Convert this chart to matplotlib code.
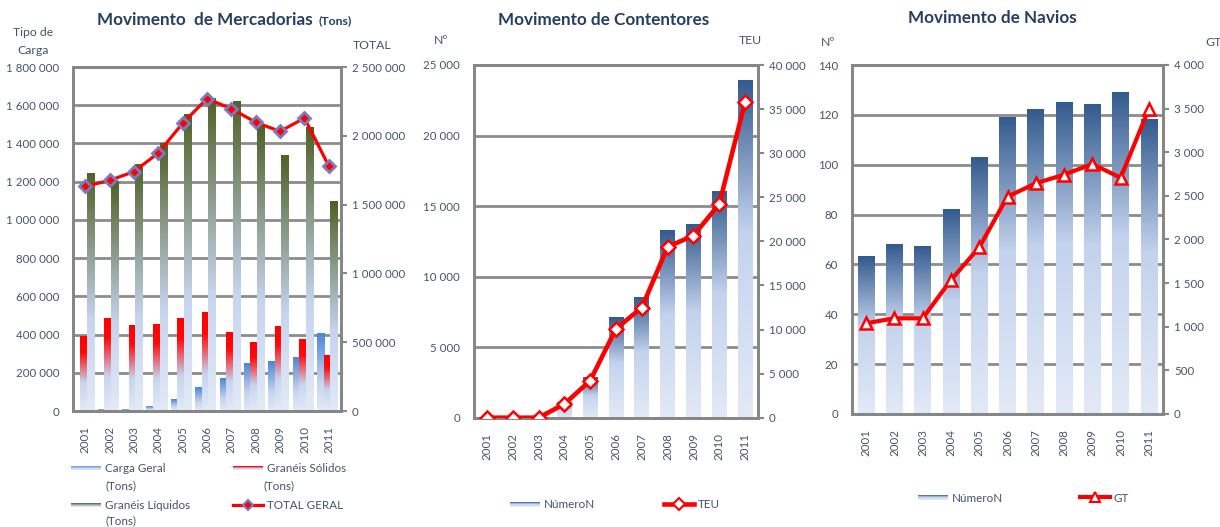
import numpy as np
import matplotlib
matplotlib.use("Agg")
import matplotlib.pyplot as plt
from matplotlib.colors import to_rgb
from matplotlib.patches import Rectangle, Patch
from matplotlib.lines import Line2D
from matplotlib.legend_handler import HandlerBase
from matplotlib.ticker import FuncFormatter, MultipleLocator

plt.rcParams['font.family'] = ['Lato', 'DejaVu Sans']

# ---------------- data ----------------
years = ['2001', '2002', '2003', '2004', '2005', '2006', '2007', '2008', '2009', '2010', '2011']

carga_geral = [5000, 8000, 7000, 25000, 58000, 122000, 168000, 251000, 257000, 278000, 403000]
graneis_solidos = [389000, 483000, 445000, 455000, 483000, 518000, 413000, 361000, 440000, 372000, 288000]
graneis_liquidos = [1245000, 1200000, 1292000, 1401000, 1554000, 1633000, 1618000, 1488000, 1336000, 1482000, 1095000]
total_geral = [1632000, 1676000, 1739000, 1875000, 2091000, 2270000, 2197000, 2098000, 2032000, 2129000, 1780000]

contentores_num = [0, 0, 0, 1090, 2885, 7137, 8555, 13255, 13730, 16090, 23890]
contentores_teu = [0, 0, 0, 1550, 4200, 10090, 12480, 19390, 20640, 24240, 35800]

navios_num = [63, 68, 67, 82, 103, 119, 122, 125, 124, 129, 118]
navios_gt = [1040, 1097, 1097, 1536, 1910, 2491, 2644, 2743, 2865, 2708, 3496]

# ---------------- style ----------------
W, H = 1220, 527
TXT = '#44546a'
TITLE = '#243f60'
GRID = '#8c8c8c'
FS = 8.3
LFS = 8.4
TFS = 12.3

G_BLUE = [(0, '#4a86d8'), (0.62, '#c6d4ee'), (1, '#e3eaf7')]
G_RED = [(0, '#ff0000'), (0.22, '#ff0a0a'), (0.62, '#c6d4ee'), (1, '#e3eaf7')]
G_GREEN = [(0, '#4f6228'), (0.62, '#c6d4ee'), (1, '#e3eaf7')]
G_NAVY = [(0, '#345b8e'), (0.45, '#c3d2ed'), (1, '#e3eaf7')]


def grad_array(stops, n=128):
    t = np.linspace(0, 1, n)
    pos = [s[0] for s in stops]
    cols = np.array([to_rgb(s[1]) for s in stops])
    arr = np.stack([np.interp(t, pos, cols[:, k]) for k in range(3)], axis=1)
    return arr[:, None, :]


def gradient_bars(ax, x, heights, width, stops, zorder=2):
    bars = ax.bar(x, heights, width, color='none', edgecolor='none', zorder=zorder)
    img = grad_array(stops)
    for r in bars:
        h = r.get_height()
        if h <= 0:
            continue
        x0 = r.get_x()
        ax.imshow(img, extent=[x0, x0 + r.get_width(), 0, h], aspect='auto',
                  origin='upper', zorder=zorder, interpolation='bilinear')
    return bars


class GradHandler(HandlerBase):
    def __init__(self, stops, frac=0.6):
        super().__init__()
        self.stops = stops
        self.frac = frac

    def create_artists(self, legend, orig_handle, xdescent, ydescent, width, height, fontsize, trans):
        n = 10
        arr = grad_array(self.stops, n)[:, 0, :]
        hh = height * self.frac
        y0 = -ydescent + (height - hh) / 2
        arts = []
        for i in range(n):
            rect = Rectangle((-xdescent, y0 + hh * (1 - (i + 1) / n)), width, hh / n + 0.05,
                             facecolor=arr[i], edgecolor='none', transform=trans)
            arts.append(rect)
        return arts


def space_fmt(v, pos=None):
    return f"{int(round(v)):,}".replace(',', ' ')


def style_axes(ax, ax2):
    for a in (ax, ax2):
        for s in a.spines.values():
            s.set_color('#868686')
            s.set_linewidth(2)
    ax.tick_params(axis='y', length=0, pad=10, labelsize=FS, labelcolor=TXT)
    ax.tick_params(axis='x', length=0, pad=11, labelsize=FS, labelcolor=TXT, labelrotation=90)
    ax2.tick_params(axis='y', length=4, width=1.5, color='#868686', pad=4, labelsize=FS, labelcolor=TXT)
    ax.yaxis.set_major_formatter(FuncFormatter(space_fmt))
    ax2.yaxis.set_major_formatter(FuncFormatter(space_fmt))
    ax.grid(axis='y', color=GRID, linewidth=2, zorder=1)
    ax.set_axisbelow(True)


def fx(x):
    return x / W


def fy(y):
    return 1 - y / H


fig = plt.figure(figsize=(W / 100, H / 100), dpi=100)
x = np.arange(len(years))

# ---------------- panel 1 ----------------
ax1 = fig.add_axes([fx(73), fy(411), fx(341) - fx(73), fy(67) - fy(411)])
ax1b = ax1.twinx()
bw = 0.31
gradient_bars(ax1, x - 0.33, carga_geral, bw, G_BLUE)
gradient_bars(ax1, x - 0.06, graneis_solidos, bw, G_RED)
gradient_bars(ax1, x + 0.21, graneis_liquidos, bw, G_GREEN)
ax1b.plot(x, total_geral, color='#ff0000', lw=2.3, marker='D', ms=6.5,
          mfc='#ff0000', mec='#7b7bbd', mew=2.0, zorder=5)
ax1.set_xlim(-0.5, 10.5)
ax1.set_ylim(0, 1800000)
ax1.yaxis.set_major_locator(MultipleLocator(200000))
ax1b.set_ylim(0, 2500000)
ax1b.yaxis.set_major_locator(MultipleLocator(500000))
ax1.set_xticks(x)
ax1.set_xticklabels(years)
style_axes(ax1, ax1b)

fig.text(fx(33), fy(33), 'Tipo de', ha='center', va='center', fontsize=8.8, color=TXT)
fig.text(fx(33), fy(50), 'Carga', ha='center', va='center', fontsize=8.8, color=TXT)
fig.text(fx(372), fy(45), 'TOTAL', ha='center', va='center', fontsize=8.8, color=TXT)
t1 = fig.text(fx(97), fy(20), 'Movimento  de Mercadorias', ha='left', va='center',
              fontsize=TFS, fontweight='bold', color=TITLE)
renderer = fig.canvas.get_renderer()
bb = t1.get_window_extent(renderer)
fig.text((bb.x1 + 6) / W, fy(21), '(Tons)', ha='left', va='center', fontsize=8.8,
         fontweight='bold', color=TITLE)

h_cg = Patch(label='Carga Geral')
h_gl = Patch(label='Granéis Líquidos')
h_gs = Patch(label='Granéis Sólidos')
h_tg = Line2D([], [], color='#ff0000', lw=2.3, marker='D', ms=5, mfc='#ff0000',
              mec='#7b7bbd', mew=1.5, label='TOTAL GERAL')
fig.legend(handles=[h_cg, h_gl, h_gs, h_tg], loc='upper left',
           bbox_to_anchor=(fx(71), fy(463)), ncol=2, frameon=False, borderpad=0,
           borderaxespad=0, fontsize=LFS, labelcolor=TXT, handlelength=2.6,
           handletextpad=0.35, columnspacing=3.6, labelspacing=2.25, numpoints=1,
           handler_map={h_cg: GradHandler(G_BLUE, 0.55), h_gl: GradHandler(G_GREEN, 0.55),
                        h_gs: GradHandler(G_RED, 0.55)})
fig.text(fx(105), fy(486), '(Tons)', ha='left', va='center', fontsize=LFS, color=TXT)
fig.text(fx(263), fy(486), '(Tons)', ha='left', va='center', fontsize=LFS, color=TXT)
fig.text(fx(105), fy(521), '(Tons)', ha='left', va='center', fontsize=LFS, color=TXT)

# ---------------- panel 2 ----------------
ax2 = fig.add_axes([fx(474), fy(417.7), fx(758) - fx(474), fy(65) - fy(417.7)])
ax2b = ax2.twinx()
gradient_bars(ax2, x, contentores_num, 0.58, G_NAVY)
ax2b.plot(x, contentores_teu, color='#ff0000', lw=3.3, marker='D', ms=7.5,
          mfc='white', mec='#ff0000', mew=1.8, zorder=5)
ax2.set_xlim(-0.5, 10.5)
ax2.set_ylim(0, 25000)
ax2.yaxis.set_major_locator(MultipleLocator(5000))
ax2b.set_ylim(0, 40000)
ax2b.yaxis.set_major_locator(MultipleLocator(5000))
ax2.set_xticks(x)
ax2.set_xticklabels(years)
style_axes(ax2, ax2b)

fig.text(fx(604), fy(20), 'Movimento de Contentores', ha='center', va='center',
         fontsize=TFS, fontweight='bold', color=TITLE)
fig.text(fx(441), fy(41), 'Nº', ha='center', va='center', fontsize=8.8, color=TXT)
fig.text(fx(750), fy(41), 'TEU', ha='center', va='center', fontsize=8.8, color=TXT)

h_n2 = Patch(label='NúmeroN')
h_teu = Line2D([], [], color='#ff0000', lw=3.3, marker='D', ms=6, mfc='white',
               mec='#ff0000', mew=1.5, label='TEU')
fig.legend(handles=[h_n2, h_teu], loc='center left', bbox_to_anchor=(fx(510), fy(505)),
           ncol=2, frameon=False, borderpad=0, borderaxespad=0, fontsize=LFS,
           labelcolor=TXT, handlelength=2.6, handletextpad=0.3, columnspacing=5.9,
           numpoints=1, handler_map={h_n2: GradHandler(G_NAVY, 0.6)})

# ---------------- panel 3 ----------------
ax3 = fig.add_axes([fx(852), fy(414), fx(1163) - fx(852), fy(65) - fy(414)])
ax3b = ax3.twinx()
gradient_bars(ax3, x, navios_num, 0.59, G_NAVY)
ax3b.plot(x, navios_gt, color='#ff0000', lw=3.0, marker='^', ms=8.5,
          mfc='white', mec='#ff0000', mew=1.8, zorder=5)
ax3.set_xlim(-0.5, 10.5)
ax3.set_ylim(0, 140)
ax3.yaxis.set_major_locator(MultipleLocator(20))
ax3b.set_ylim(0, 4000)
ax3b.yaxis.set_major_locator(MultipleLocator(500))
ax3.set_xticks(x)
ax3.set_xticklabels(years)
style_axes(ax3, ax3b)

fig.text(fx(992), fy(18), 'Movimento de Navios', ha='center', va='center',
         fontsize=TFS, fontweight='bold', color=TITLE)
fig.text(fx(828), fy(42), 'Nº', ha='center', va='center', fontsize=8.8, color=TXT)
fig.text(fx(1205), fy(42), 'GT', ha='left', va='center', fontsize=8.8, color=TXT)

h_n3 = Patch(label='NúmeroN')
h_gt = Line2D([], [], color='#ff0000', lw=3.0, marker='^', ms=7, mfc='white',
              mec='#ff0000', mew=1.5, label='GT')
fig.legend(handles=[h_n3, h_gt], loc='center left', bbox_to_anchor=(fx(918), fy(498)),
           ncol=2, frameon=False, borderpad=0, borderaxespad=0, fontsize=LFS,
           labelcolor=TXT, handlelength=2.6, handletextpad=0.3, columnspacing=6.6,
           numpoints=1, handler_map={h_n3: GradHandler(G_NAVY, 0.6)})

fig.savefig('out.png', dpi=100)
